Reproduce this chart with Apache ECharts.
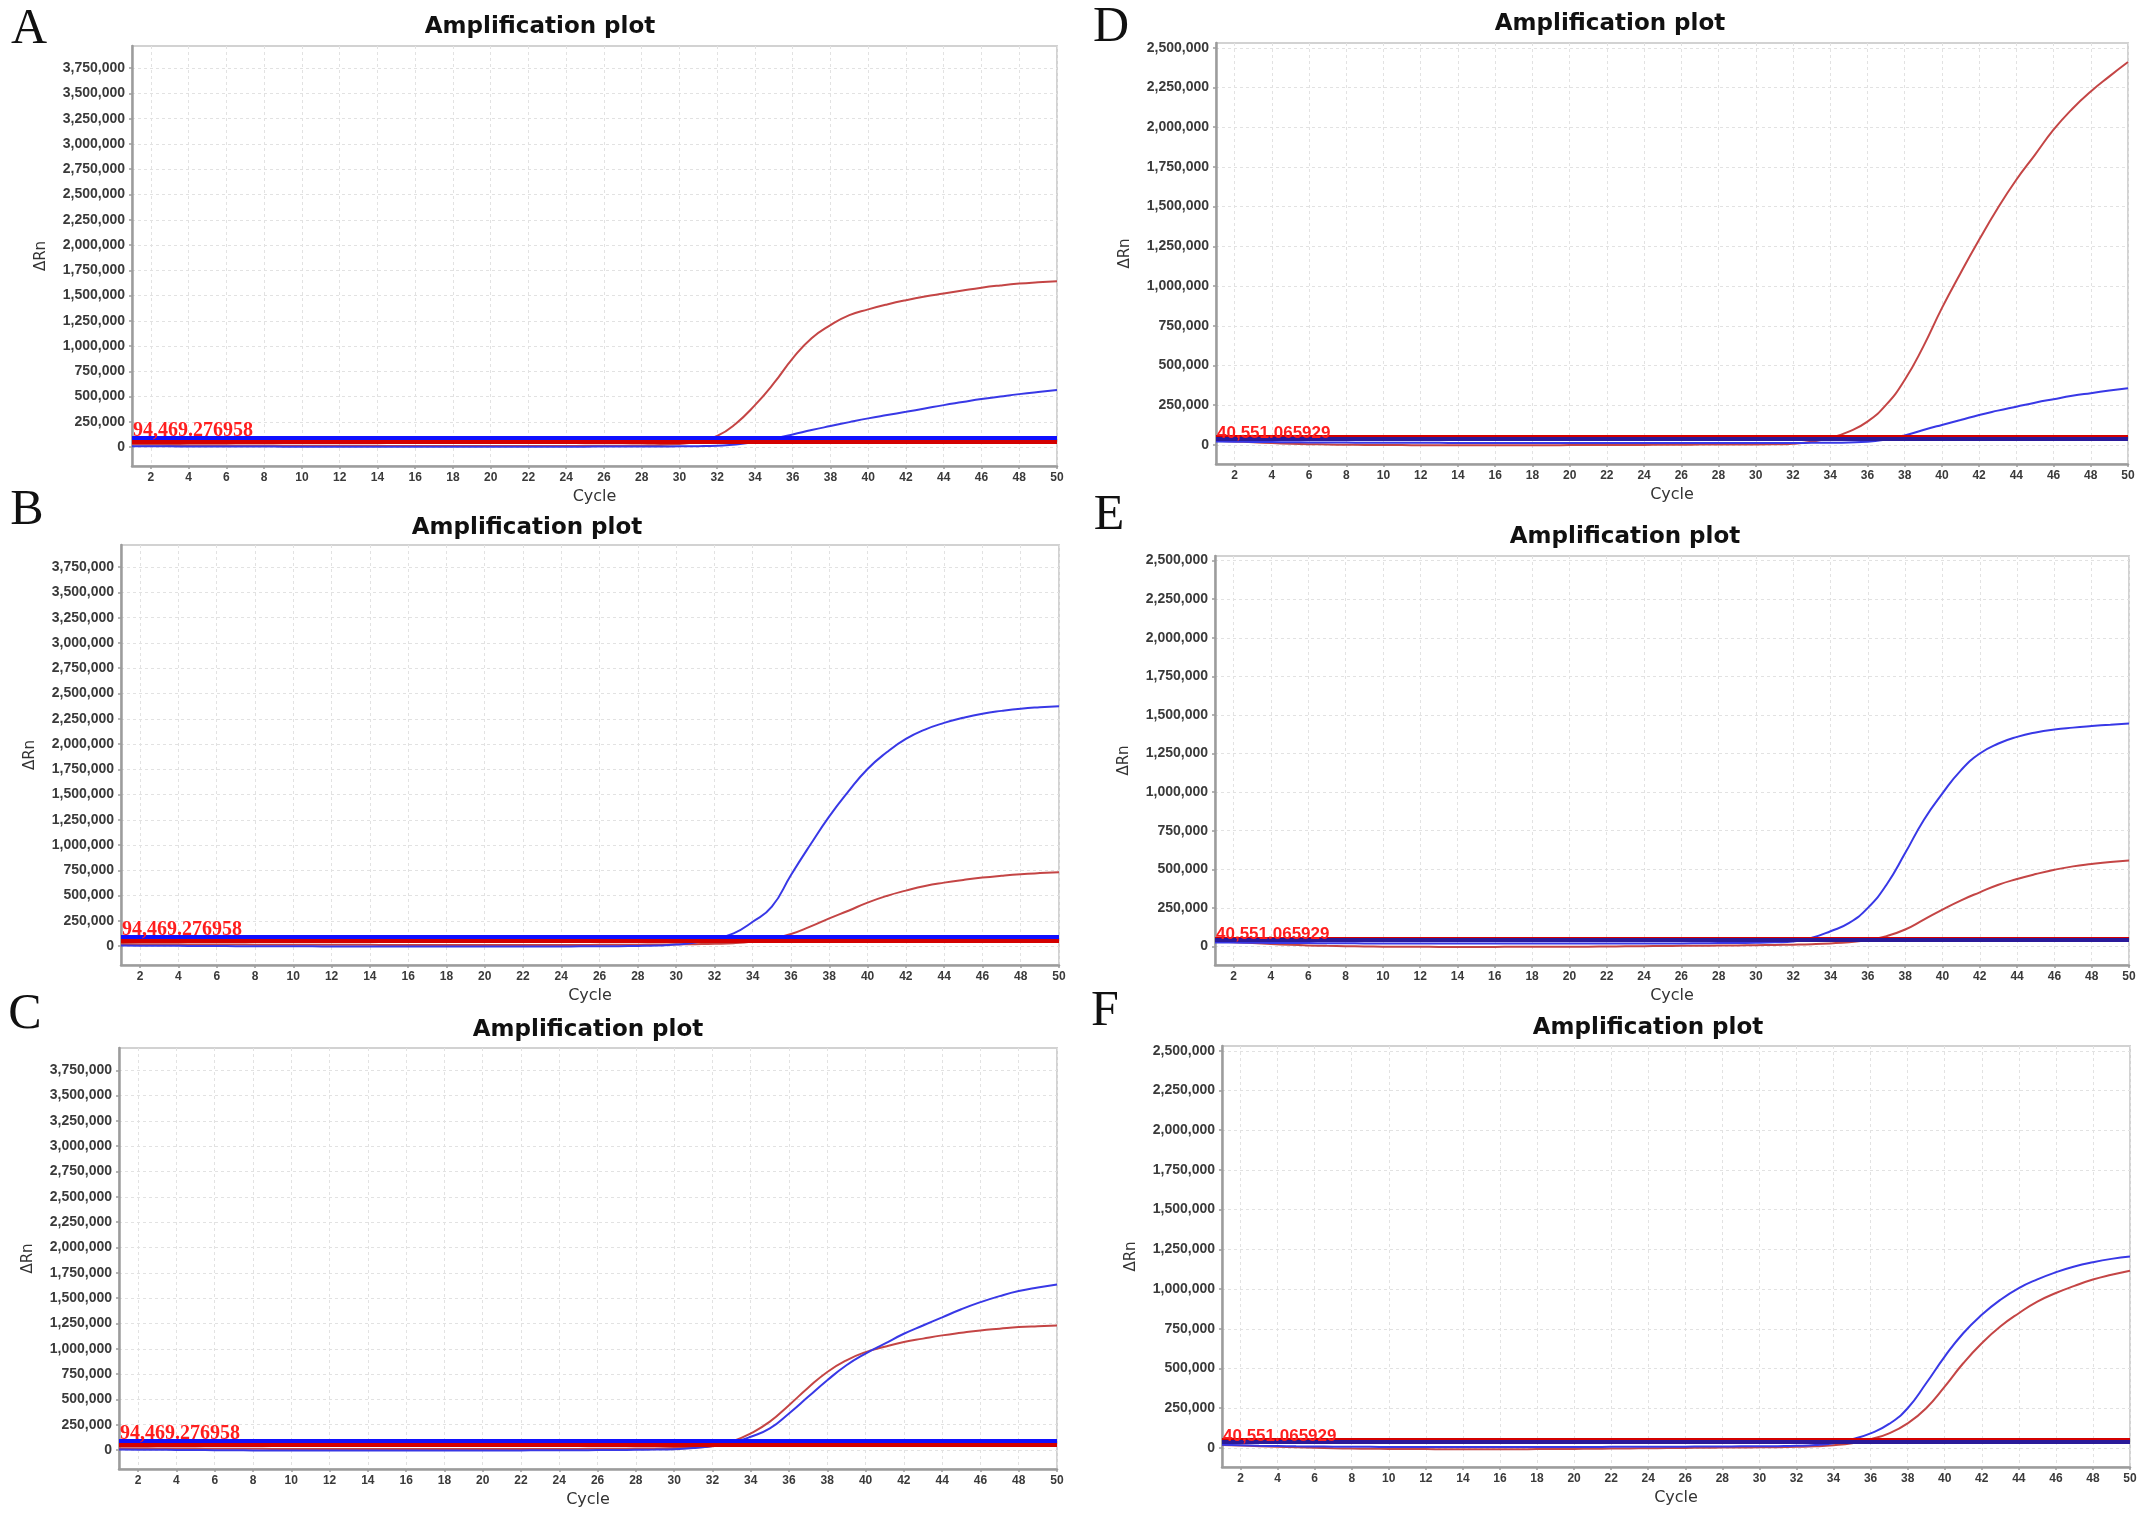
<!DOCTYPE html>
<html><head><meta charset="utf-8">
<script src="https://cdn.jsdelivr.net/npm/echarts@6/dist/echarts.min.js"></script>
<style>html,body{margin:0;padding:0;background:#fff;}#c{width:2150px;height:1522px;}</style>
</head><body><div id="c"></div>
<script>
const cycles = [1,2,3,4,5,6,7,8,9,10,11,12,13,14,15,16,17,18,19,20,21,22,23,24,25,26,27,28,29,30,31,32,33,34,35,36,37,38,39,40,41,42,43,44,45,46,47,48,49,50];
const xTicks = [2,4,6,8,10,12,14,16,18,20,22,24,26,28,30,32,34,36,38,40,42,44,46,48,50];
const yTicksABC = [0,250000,500000,750000,1000000,1250000,1500000,1750000,2000000,2250000,2500000,2750000,3000000,3250000,3500000,3750000];
const yTicksDEF = [0,250000,500000,750000,1000000,1250000,1500000,1750000,2000000,2250000,2500000];
const panelLetters = ['A','B','C','D','E','F'];
const titleText = 'Amplification plot';
const thresholdBlueABC = 94469.276958, thresholdRedABC = 48000;
const thresholdBlueDEF = 40551.065929, thresholdRedDEF = 53000;
const thresholdLabelABC = '94,469.276958', thresholdLabelDEF = '40,551.065929';

const redA = [25000,23000,21000,19000,18000,17000,16000,15000,14000,14000,13000,13000,12000,12000,11000,11000,11000,10000,10000,10000,10000,10000,11000,11000,12000,13000,14000,16000,20000,30000,55000,110000,234000,415000,632000,878000,1077000,1207000,1306000,1363000,1412000,1454000,1490000,1520000,1550000,1578000,1600000,1618000,1631000,1642000];
const blueA = [8000,7000,7000,6000,6000,5000,5000,5000,4000,4000,4000,4000,3000,3000,3000,3000,3000,3000,3000,3000,3000,3000,4000,4000,4000,5000,5000,6000,6000,7000,9000,14000,25000,50000,85000,125000,168000,208000,247000,284000,317000,349000,382000,415000,445000,475000,500000,524000,545000,564000];
const redB = [20000,19000,18000,17000,16000,15000,15000,14000,14000,13000,13000,12000,12000,12000,11000,11000,11000,11000,10000,10000,10000,10000,10000,11000,11000,12000,13000,14000,15000,17000,19000,22000,28000,45000,75000,119000,192000,274000,350000,430000,496000,549000,595000,628000,655000,678000,696000,711000,722000,731000];
const blueB = [5000,4000,3000,2000,1000,0,-1000,-2000,-2000,-3000,-3000,-4000,-4000,-4000,-5000,-5000,-5000,-5000,-5000,-5000,-5000,-5000,-4000,-4000,-3000,-2000,-1000,1000,5000,15000,35000,76000,126000,241000,390000,704000,1000000,1283000,1531000,1753000,1918000,2050000,2143000,2209000,2260000,2300000,2328000,2350000,2364000,2374000];
const redC = [18000,17000,16000,15000,14000,13000,12000,12000,11000,11000,10000,10000,10000,9000,9000,9000,9000,9000,9000,9000,10000,10000,10000,11000,11000,12000,13000,14000,16000,19000,24000,38000,82000,164000,280000,443000,615000,771000,886000,967000,1020000,1066000,1100000,1132000,1158000,1181000,1198000,1214000,1223000,1230000];
const blueC = [5000,3000,2000,1000,0,-2000,-3000,-4000,-5000,-5000,-6000,-6000,-6000,-6000,-6000,-6000,-6000,-5000,-5000,-5000,-4000,-4000,-3000,-3000,-2000,-1000,0,2000,4000,8000,20000,40000,72000,131000,213000,361000,525000,689000,837000,952000,1050000,1148000,1230000,1310000,1390000,1460000,1520000,1570000,1605000,1634000];
const redD = [27000,22000,17000,12000,8000,5000,3000,1000,0,-1000,-1000,-2000,-2000,-2000,-2000,-2000,-2000,-2000,-2000,-1000,-1000,-1000,0,0,1000,1000,2000,2000,3000,3000,4000,8000,20000,45000,84000,147000,252000,409000,619000,861000,1081000,1291000,1490000,1669000,1826000,1984000,2115000,2225000,2320000,2410000];
const blueD = [22000,20000,19000,18000,17000,16000,15000,15000,14000,14000,13000,13000,13000,12000,12000,12000,12000,12000,12000,12000,12000,12000,12000,12000,12000,12000,12000,12000,12000,12000,12000,12000,13000,14000,16000,20000,35000,60000,94000,126000,157000,189000,216000,241000,266000,288000,309000,326000,342000,357000];
const redE = [34000,28000,22000,16000,11000,7000,4000,2000,0,-1000,-2000,-2000,-3000,-3000,-3000,-3000,-2000,-2000,-2000,-1000,-1000,0,1000,2000,3000,4000,5000,6000,7000,8000,10000,12000,15000,20000,28000,42000,67000,110000,174000,239000,299000,351000,400000,437000,469000,497000,519000,534000,547000,557000];
const blueE = [26000,25000,24000,23000,22000,22000,21000,21000,20000,20000,20000,19000,19000,19000,19000,19000,19000,19000,19000,19000,19000,19000,19000,20000,20000,20000,21000,22000,23000,24000,27000,33000,56000,99000,153000,250000,400000,605000,820000,992000,1143000,1250000,1315000,1358000,1387000,1406000,1418000,1428000,1437000,1445000];
const redF = [19000,15000,11000,7000,4000,1000,-2000,-4000,-5000,-6000,-7000,-7000,-8000,-8000,-8000,-8000,-8000,-7000,-7000,-6000,-5000,-4000,-3000,-2000,-1000,0,1000,2000,3000,4000,5000,7000,10000,17000,30000,55000,92000,155000,250000,386000,533000,659000,764000,848000,921000,975000,1020000,1060000,1090000,1115000];
const blueF = [20000,17000,14000,12000,10000,9000,8000,7000,7000,6000,6000,6000,6000,6000,6000,6000,6000,6000,6000,6000,6000,7000,7000,7000,8000,8000,9000,9000,10000,10000,11000,13000,18000,30000,55000,92000,151000,250000,407000,575000,722000,838000,932000,1006000,1061000,1106000,1142000,1169000,1190000,1205000];

const redSeries = [redA, redB, redC, redD, redE, redF];
const blueSeries = [blueA, blueB, blueC, blueD, blueE, blueF];

// layout (pixels)
const grids = [
  {left:132, top:46, width:925, height:420},
  {left:121, top:545, width:938, height:420},
  {left:119, top:1048, width:938, height:421},
  {left:1216, top:43, width:912, height:421},
  {left:1215, top:556, width:914, height:409},
  {left:1222, top:1046, width:908, height:421}
];
const titlePos = [[540,27],[527,528],[588,1030],[1610,24],[1625,537],[1648,1028]];
const letterPos = [[29,30],[27,511],[25,1015],[1111,28],[1109,516],[1105,1012]];
const yRange = {abc:[-187500, 3970000], def:[-120000, 2530000]};

const fmt = v => Math.round(v).toLocaleString('en-US');
const AXIS_C = '#9c9c9c';

const option = {
  animation:false,
  backgroundColor:'#ffffff',
  grid: grids.map(g => ({left:g.left, top:g.top, width:g.width, height:g.height, show:true, borderColor:'#d2d2d2', borderWidth:2, backgroundColor:'#ffffff'})),
  xAxis: grids.map((g,i) => ({
    gridIndex:i, type:'value', min:1, max:50,
    name:'Cycle', nameLocation:'middle', nameGap:23,
    nameTextStyle:{fontFamily:'DejaVu Sans', fontSize:16, color:'#333'},
    axisLine:{show:true, onZero:false, lineStyle:{color:AXIS_C, width:2.5}},
    axisTick:{show:true, length:3, customValues:xTicks, lineStyle:{color:AXIS_C, width:1.5}},
    axisLabel:{customValues:xTicks, margin:6, fontFamily:'Liberation Sans', fontWeight:'bold', fontSize:12, color:'#3a3a3a'},
    splitLine:{show:true, customValues:xTicks, lineStyle:{color:'#e2e2e2', type:[3,3], width:1}}
  })),
  yAxis: grids.map((g,i) => {
    const abc = i < 3;
    const ticks = abc ? yTicksABC : yTicksDEF;
    const r = abc ? yRange.abc : yRange.def;
    return {
      gridIndex:i, type:'value', min:r[0], max:r[1],
      name:'ΔRn', nameLocation:'middle', nameGap:83, nameRotate:90,
      nameTextStyle:{fontFamily:'DejaVu Sans', fontSize:15, color:'#333'},
      axisLine:{show:true, onZero:false, lineStyle:{color:AXIS_C, width:2.5}},
      axisTick:{show:true, length:3, customValues:ticks, lineStyle:{color:AXIS_C, width:1.5}},
      axisLabel:{customValues:ticks, margin:7, formatter:fmt, fontFamily:'Liberation Sans', fontWeight:'bold', fontSize:14, color:'#3a3a3a'},
      splitLine:{show:true, customValues:ticks, lineStyle:{color:'#e2e2e2', type:[3,3], width:1}}
    };
  }),
  series: [],
  graphic: []
};

for (let i = 0; i < 6; i++) {
  const abc = i < 3;
  option.series.push({
    type:'line', name:'red '+panelLetters[i], xAxisIndex:i, yAxisIndex:i,
    data: cycles.map((c,k) => [c, redSeries[i][k]]),
    showSymbol:false, smooth:0.5,
    lineStyle:{color:'#c44545', width:2}, itemStyle:{color:'#c44545'},
    markLine:{silent:true, symbol:'none', animation:false,
      lineStyle:{color:'#d40000', width:4, type:'solid'},
      label:{show:false},
      data:[{yAxis: abc ? thresholdRedABC : thresholdRedDEF}]}
  });
  option.series.push({
    type:'line', name:'blue '+panelLetters[i], xAxisIndex:i, yAxisIndex:i,
    data: cycles.map((c,k) => [c, blueSeries[i][k]]),
    showSymbol:false, smooth:0.5,
    lineStyle:{color:'#3838e6', width:2}, itemStyle:{color:'#3838e6'},
    markLine:{silent:true, symbol:'none', animation:false,
      lineStyle:{color: abc ? '#1010ff' : '#2a1a9a', width:4, type:'solid'},
      label:{show:true, position:'insideStartTop', distance:[1, -3],
        formatter: abc ? thresholdLabelABC : thresholdLabelDEF,
        color:'#ff1e1e',
        fontFamily: abc ? 'Liberation Serif' : 'Liberation Sans',
        fontWeight:'bold', fontSize: abc ? 20 : 17},
      data:[{yAxis: abc ? thresholdBlueABC : thresholdBlueDEF}]}
  });
  option.graphic.push({
    type:'text', x:titlePos[i][0], y:titlePos[i][1], silent:true,
    style:{text:titleText, fontFamily:'DejaVu Sans', fontWeight:'bold', fontSize:23, fill:'#111', align:'center', verticalAlign:'middle'}
  });
  option.graphic.push({
    type:'text', x:letterPos[i][0], y:letterPos[i][1], silent:true,
    style:{text:panelLetters[i], fontFamily:'Liberation Serif', fontSize:50, fill:'#111', align:'center', verticalAlign:'middle'}
  });
}

const chart = echarts.init(document.getElementById('c'), null, {renderer:'canvas'});
chart.setOption(option);
</script>
</body></html>
